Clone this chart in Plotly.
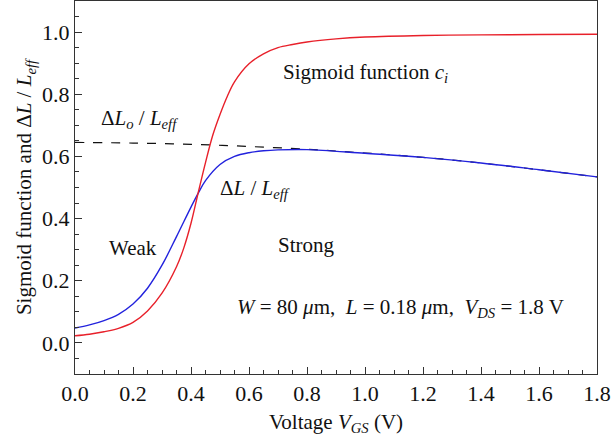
import plotly.graph_objects as go

# Sigmoid function c_i (red)
red_x = [0.0, 0.05, 0.1, 0.15, 0.2, 0.25, 0.3, 0.35, 0.375, 0.4, 0.425, 0.45, 0.475, 0.5,
         0.525, 0.55, 0.6, 0.65, 0.7, 0.75, 0.8, 0.9, 1.0, 1.2, 1.4, 1.6, 1.8]
red_y = [0.023, 0.028, 0.036, 0.047, 0.066, 0.103, 0.16, 0.245, 0.305, 0.385, 0.484, 0.58,
         0.668, 0.735, 0.793, 0.84, 0.898, 0.93, 0.95, 0.96, 0.968, 0.978, 0.984, 0.989,
         0.991, 0.992, 0.993]

# Delta L / L_eff (blue)
blue_x = [0.0, 0.05, 0.1, 0.15, 0.2, 0.25, 0.3, 0.35, 0.4, 0.425, 0.45, 0.5, 0.55, 0.6,
          0.65, 0.7, 0.8, 1.0, 1.2, 1.4, 1.6, 1.8]
blue_y = [0.048, 0.058, 0.072, 0.092, 0.125, 0.176, 0.25, 0.342, 0.437, 0.482, 0.522, 0.574,
          0.6, 0.612, 0.618, 0.621, 0.622, 0.61, 0.597, 0.579, 0.557, 0.534]

# Delta L_o / L_eff (dashed)
dash_x = [0.0, 0.2, 0.4, 0.6, 0.8, 1.0, 1.2, 1.4, 1.6, 1.8]
dash_y = [0.645, 0.643, 0.639, 0.632, 0.623, 0.611, 0.597, 0.579, 0.557, 0.534]

x_ticks = [0.0, 0.2, 0.4, 0.6, 0.8, 1.0, 1.2, 1.4, 1.6, 1.8]
y_ticks = [0.0, 0.2, 0.4, 0.6, 0.8, 1.0]

FONT = "Liberation Serif"

fig = go.Figure()
fig.add_trace(go.Scatter(x=dash_x, y=dash_y, mode="lines", line=dict(color="#111111", width=1.2, dash="dash"),
                         line_shape="spline"))
fig.add_trace(go.Scatter(x=blue_x, y=blue_y, mode="lines", line=dict(color="#2222dd", width=1.4),
                         line_shape="spline"))
fig.add_trace(go.Scatter(x=red_x, y=red_y, mode="lines", line=dict(color="#e8202a", width=1.4),
                         line_shape="spline"))

annots = [
    (0.224, 0.72, "Δ<i>L<sub>o</sub></i> / <i>L<sub>eff</sub></i>"),
    (1.0, 0.867, "Sigmoid function <i>c<sub>i</sub></i>"),
    (0.62, 0.496, "Δ<i>L</i> / <i>L<sub>eff</sub></i>"),
    (0.2, 0.304, "Weak"),
    (0.797, 0.314, "Strong"),
    (1.121, 0.112, "<i>W</i> = 80 <i>μ</i>m,  <i>L</i> = 0.18 <i>μ</i>m,  <i>V<sub>DS</sub></i> = 1.8 V"),
]
for x, y, t in annots:
    fig.add_annotation(x=x, y=y, text=t, showarrow=False, xref="x", yref="y",
                       font=dict(family=FONT, size=21, color="#111111"))

axis_common = dict(showgrid=False, zeroline=False, showline=True, linecolor="#333333", linewidth=1,
                   mirror=True, ticks="inside", ticklen=7, tickcolor="#333333",
                   tickfont=dict(family=FONT, size=22, color="#111111"), tickformat=".1f")

fig.update_xaxes(range=[0, 1.8], tickvals=x_ticks,
                 minor=dict(dtick=0.05, tick0=0, ticks="inside", ticklen=4, tickcolor="#333333"),
                 title=dict(text="Voltage <i>V<sub>GS</sub></i> (V)", font=dict(family=FONT, size=21, color="#111111"),
                            standoff=8),
                 **axis_common)
fig.update_yaxes(range=[-0.1, 1.1], tickvals=y_ticks,
                 minor=dict(dtick=0.05, tick0=0, ticks="inside", ticklen=4, tickcolor="#333333"),
                 title=dict(text="Sigmoid function and Δ<i>L</i> / <i>L<sub>eff</sub></i>",
                            font=dict(family=FONT, size=21, color="#111111"), standoff=4),
                 **axis_common)

fig.update_layout(width=613, height=447, margin=dict(l=75, r=16, t=1, b=73),
                  plot_bgcolor="white", paper_bgcolor="white", showlegend=False)

fig.write_html("out.html")
